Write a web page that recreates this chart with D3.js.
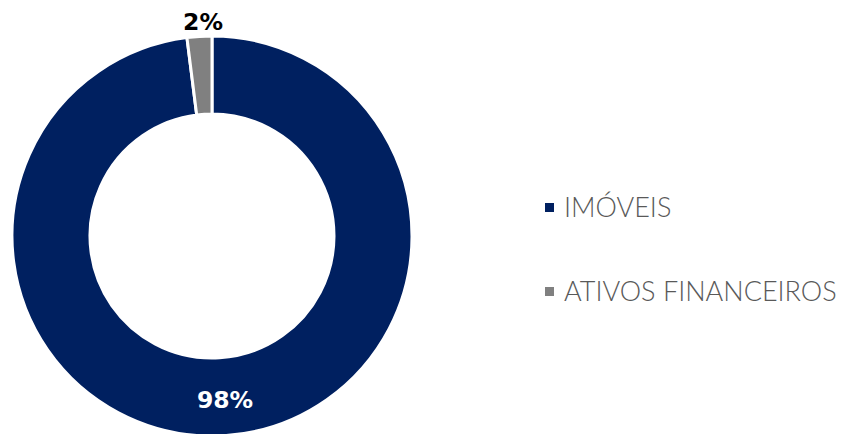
<!DOCTYPE html>
<html>
<head>
<meta charset="utf-8">
<script src="https://cdn.jsdelivr.net/npm/d3@7"></script>
<style>
  body { margin: 0; background: #fff; }
  text { font-family: Lato, "Noto Sans", sans-serif; }
  text.pct { font-family: "DejaVu Sans", sans-serif; font-weight: bold; font-size: 23.5px; }
</style>
</head>
<body>
<svg></svg>
<script>
const w = 846;
const h = 434;

const categories = ["IMÓVEIS", "ATIVOS FINANCEIROS"];
const values = [98, 2];
const labels = ["98%", "2%"];
const colors = ["#002060", "#808080"];

const cx = 212;
const cy = 236;
const outerR = 200;
const innerR = 122;

const svg = d3.select("svg").attr("width", w).attr("height", h);

const pie = d3.pie().sort(null)(values);
const arc = d3.arc().innerRadius(innerR).outerRadius(outerR);

const g = svg.append("g").attr("transform", `translate(${cx},${cy})`);

/** slices */
g.selectAll("path")
  .data(pie)
  .enter()
  .append("path")
  .attr("d", arc)
  .attr("fill", (d, i) => colors[i])
  .attr("stroke", "#fff")
  .attr("stroke-width", 3);

/** percent labels */
g.append("text")
  .attr("class", "pct")
  .text(labels[0])
  .attr("x", 13)
  .attr("y", 172)
  .attr("text-anchor", "middle")
  .attr("fill", "#fff");

g.append("text")
  .attr("class", "pct")
  .text(labels[1])
  .attr("x", -9)
  .attr("y", -206)
  .attr("text-anchor", "middle")
  .attr("fill", "#000");

/** legend */
const legend = svg.append("g").attr("transform", "translate(545,208)");
const item = legend.selectAll("g")
  .data(categories)
  .enter()
  .append("g")
  .attr("transform", (d, i) => `translate(0,${i * 84})`);

item.append("rect")
  .attr("x", 0)
  .attr("y", -5)
  .attr("width", 9)
  .attr("height", 9)
  .attr("fill", (d, i) => colors[i]);

item.append("text")
  .text((d) => d)
  .attr("x", 19)
  .attr("y", 9)
  .attr("fill", "#595959")
  .attr("font-weight", 300)
  .attr("font-size", 27);
</script>
</body>
</html>
